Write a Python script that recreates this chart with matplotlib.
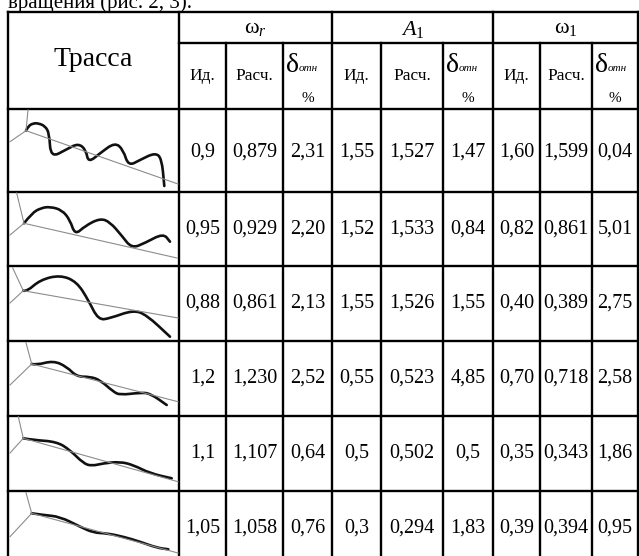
import numpy as np
import matplotlib
matplotlib.use("Agg")
import matplotlib.pyplot as plt
from matplotlib.path import Path
from matplotlib.patches import PathPatch

plt.rcParams['font.family'] = ['Liberation Serif', 'DejaVu Serif']
plt.rcParams['mathtext.fontset'] = 'custom'
plt.rcParams['mathtext.rm'] = 'Liberation Serif'
plt.rcParams['mathtext.it'] = 'Liberation Serif:italic'

# table values (one entry per row)
om_r_id = ['0,9', '0,95', '0,88', '1,2', '1,1', '1,05']
om_r_calc = ['0,879', '0,929', '0,861', '1,230', '1,107', '1,058']
om_r_d = ['2,31', '2,20', '2,13', '2,52', '0,64', '0,76']
a1_id = ['1,55', '1,52', '1,55', '0,55', '0,5', '0,3']
a1_calc = ['1,527', '1,533', '1,526', '0,523', '0,502', '0,294']
a1_d = ['1,47', '0,84', '1,55', '4,85', '0,5', '1,83']
om1_id = ['1,60', '0,82', '0,40', '0,70', '0,35', '0,39']
om1_calc = ['1,599', '0,861', '0,389', '0,718', '0,343', '0,394']
om1_d = ['0,04', '5,01', '2,75', '2,58', '1,86', '0,95']

groups = [r'$\mathrm{ω}_{\mathit{r}}$', r'$\mathit{A}_{\mathrm{1}}$', r'$\mathrm{ω}_{\mathrm{1}}$']
sub_heads = ['Ид.', 'Расч.']

# traces drawn in the first column, points relative to the cell top-left
trace_x = [
    [18, 20.3, 25.3, 30.3, 37, 41.3, 42.7, 58.7, 70.3, 78, 80.3, 92, 107, 115.3, 120.3, 132, 147, 153.7, 156.3],
    [16, 24, 33, 42, 54, 62, 67, 77, 92, 102, 114, 123.7, 137, 155.3, 162],
    [15.3, 18.7, 32, 52, 68.7, 80.3, 90.3, 102, 125.3, 138.7, 162],
    [23.7, 28.7, 45.3, 58.7, 68.7, 82, 92, 105.3, 112, 132, 142, 158.7],
    [15.3, 25.3, 48.7, 62, 75.3, 83.7, 95.3, 112, 125.3, 142, 163.7],
    [23.7, 35.3, 52, 72, 85.3, 98.7, 115.3, 132, 148.7, 160.3],
]
trace_y = [
    [21.7, 17, 14.3, 14.3, 17, 24.3, 48.7, 40.3, 34.3, 41, 53.7, 44.3, 33.3, 41, 57, 51, 43.7, 49.3, 77],
    [31.3, 21, 16, 14.7, 18, 28, 43, 34, 26.3, 30, 44, 56.3, 51, 41.3, 49.7],
    [24.7, 25.7, 14, 9, 15.7, 34, 54, 52.3, 44, 49, 70.7],
    [23, 24, 19.7, 25.7, 35.7, 35.7, 39, 50.7, 54, 51.7, 52.3, 64],
    [22.3, 24, 25.7, 34, 47.3, 50, 47.3, 45.7, 49, 57.3, 62.3],
    [22.3, 24, 25.7, 35.7, 41.7, 42.3, 45.7, 50.7, 56.7, 58.3],
]
# axis lines: origin, end up, end down-left, end right
axis_ends = [
    [(18, 21.7), (20, 1), (2, 32.7), (170, 75)],
    [(16, 31.3), (8.7, 1), (2, 43), (169, 66)],
    [(15.3, 24.7), (4.7, 2), (2, 37), (170, 52)],
    [(23.7, 23), (18, 1.7), (2, 44), (170, 60.7)],
    [(15.3, 22.3), (10.3, 0.7), (2, 37), (170, 65.7)],
    [(23.7, 22.3), (18, 1.7), (2, 45.7), (170, 62)],
]

# grid
col_edges = [8, 179, 226, 283, 332, 381, 443, 493, 540, 592, 638]
row_edges = [109, 192, 266, 341, 416, 491, 566]
top, mid = 12, 43

fig = plt.figure(figsize=(6.39, 5.56), dpi=100)
ax = fig.add_axes([0, 0, 1, 1])
ax.set_xlim(0, 639)
ax.set_ylim(556, 0)
ax.axis('off')

lw = 1.7
ax.text(8, 8, 'вращения (рис. 2, 3).', fontsize=15, va='baseline', ha='left')

# horizontal lines
ax.plot([col_edges[0], col_edges[-1]], [top, top], color='black', lw=lw)
ax.plot([col_edges[1], col_edges[-1]], [mid, mid], color='black', lw=lw)
for y in row_edges:
    ax.plot([col_edges[0], col_edges[-1]], [y, y], color='black', lw=lw)
# vertical lines
for i, x in enumerate(col_edges):
    y0 = top if i in (0, 1, 4, 7, 10) else mid
    ax.plot([x, x], [y0, row_edges[-1]], color='black', lw=lw)

def cx(i):
    return (col_edges[i] + col_edges[i + 1]) / 2

# header
ax.text(cx(0), 60, 'Трасса', fontsize=20, ha='center', va='center')
for g in range(3):
    c0 = col_edges[1 + 3 * g]
    c1 = col_edges[4 + 3 * g]
    ax.text((c0 + c1) / 2, 29, groups[g], fontsize=16, ha='center', va='center')
    for k in range(2):
        ax.text(cx(1 + 3 * g + k), 76, sub_heads[k], fontsize=12.5, ha='center', va='center')
    xl = col_edges[3 + 3 * g]
    ax.text(xl + 3, 72, 'δ', fontsize=20, ha='left', va='baseline')
    ax.text(xl + 15.5, 71, 'отн', fontsize=8, style='italic', ha='left', va='baseline')
    ax.text(cx(3 + 3 * g), 98, '%', fontsize=11, ha='center', va='center')

# body values
columns = [om_r_id, om_r_calc, om_r_d, a1_id, a1_calc, a1_d, om1_id, om1_calc, om1_d]
for r in range(6):
    yc = (row_edges[r] + min(row_edges[r + 1], 566)) / 2
    if r == 0:
        yc = 152
    for c, vals in enumerate(columns):
        ax.text(cx(c + 1), yc, vals[r], fontsize=14.5, ha='center', va='center')

# traces
for r in range(6):
    ox, oy = col_edges[0], row_edges[r]
    o, up, dl, rt = axis_ends[r]
    for e in (up, dl, rt):
        ax.plot([ox + o[0], ox + e[0]], [oy + o[1], oy + e[1]], color='#8c8c8c', lw=0.8)
    px = np.array(trace_x[r]) + ox
    py = np.array(trace_y[r]) + oy
    verts = [(px[0], py[0])]
    codes = [Path.MOVETO]
    for k in range(1, len(px) - 1):
        verts += [(px[k], py[k]), ((px[k] + px[k + 1]) / 2, (py[k] + py[k + 1]) / 2)]
        codes += [Path.CURVE3, Path.CURVE3]
    verts.append((px[-1], py[-1]))
    codes.append(Path.LINETO)
    ax.add_patch(PathPatch(Path(verts, codes), facecolor='none', edgecolor='#111111', lw=1.9,
                           capstyle='round', joinstyle='round'))

fig.savefig('out.png', dpi=100)
